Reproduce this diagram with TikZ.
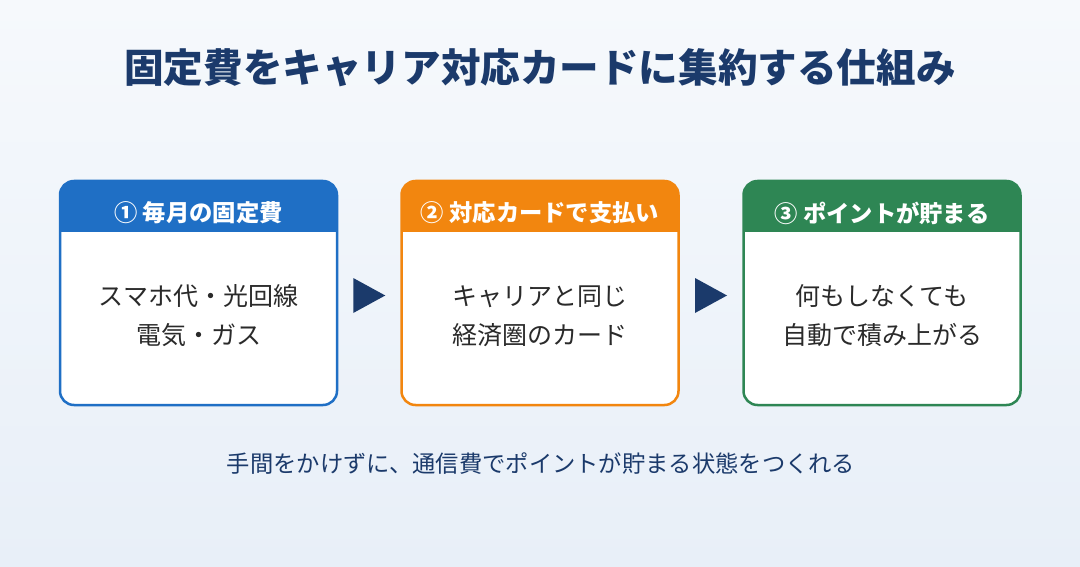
\documentclass[tikz,border=0pt]{standalone}
\usepackage{fontspec}
\setmainfont{Noto Sans CJK JP}
\usetikzlibrary{calc}
\definecolor{navy}{HTML}{1B3A6B}
\definecolor{cblue}{HTML}{1F6FC5}
\definecolor{corange}{HTML}{F2860F}
\definecolor{cgreen}{HTML}{2E8654}
\definecolor{bodytxt}{HTML}{2A2A2A}
\definecolor{bgtop}{HTML}{F6F9FC}
\definecolor{bgbot}{HTML}{E8EFF8}
\tikzset{
  x=1pt, y=1pt,
  boxframe/.style={minimum width=277pt, minimum height=224pt, inner sep=0pt, outer sep=0pt},
  headtxt/.style={text=white, font=\fontsize{23.3}{28}\selectfont\bfseries, inner sep=0pt},
  bodytext/.style={text=bodytxt, font=\fontsize{25}{39}\selectfont, align=center, inner sep=0pt},
  tri/.style={fill=navy},
}
\newcommand{\stepcard}[4]{%
  \begin{scope}
    \clip[rounded corners=14pt] (#1.south west) rectangle (#1.north east);
    \fill[white] (#1.south west) rectangle (#1.north east);
    \fill[#2] (#1.north west) rectangle ([yshift=-51pt]#1.north east);
  \end{scope}
  \draw[#2, line width=2.5pt, rounded corners=14pt] (#1.south west) rectangle (#1.north east);
  \node[headtxt] (#1h) at ([yshift=-32pt]#1.north) {#3};
  \node[bodytext] (#1b) at ([yshift=-23pt]#1.center) {#4};
}
\begin{document}
\begin{tikzpicture}
\shade[top color=bgtop, bottom color=bgbot] (0,0) rectangle (1080,-567);
\useasboundingbox (0,0) rectangle (1080,-567);
\node[text=navy, font=\fontsize{39.6}{46}\selectfont\bfseries, inner sep=0pt] (title) at (540,-68) {固定費をキャリア対応カードに集約する仕組み};

\node[boxframe] (b1) at (198.5,-293) {};
\node[boxframe] (b2) at (540,-293) {};
\node[boxframe] (b3) at (882,-293) {};

\stepcard{b1}{cblue}{① 毎月の固定費}{スマホ代・光回線\\電気・ガス}
\stepcard{b2}{corange}{② 対応カードで支払い}{キャリアと同じ\\経済圏のカード}
\stepcard{b3}{cgreen}{③ ポイントが貯まる}{何もしなくても\\自動で積み上がる}

\coordinate (a1) at ($(b1.east)!0.5!(b2.west)$);
\coordinate (a2) at ($(b2.east)!0.5!(b3.west)$);
\fill[tri] ([xshift=-16pt,yshift=15pt]a1) -- ([xshift=16pt,yshift=-2.5pt]a1) -- ([xshift=-16pt,yshift=-20pt]a1) -- cycle;
\fill[tri] ([xshift=-16pt,yshift=15pt]a2) -- ([xshift=16pt,yshift=-2.5pt]a2) -- ([xshift=-16pt,yshift=-20pt]a2) -- cycle;

\node[text=navy, font=\fontsize{23.3}{28}\selectfont, inner sep=0pt] (foot) at (541,-464) {手間をかけずに、通信費でポイントが貯まる状態をつくれる};
\end{tikzpicture}
\end{document}
